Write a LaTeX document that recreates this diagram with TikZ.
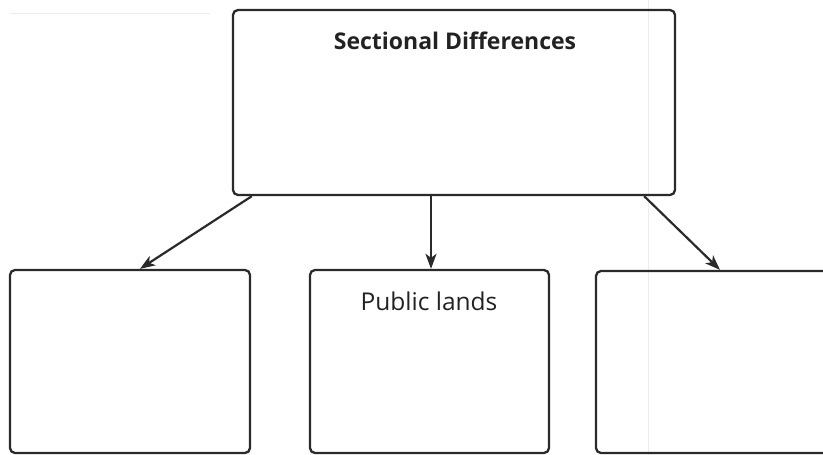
\documentclass[tikz,border=0pt]{standalone}
\usepackage{fontspec}
\setmainfont{Open Sans}
\usetikzlibrary{arrows.meta}
\definecolor{ink}{HTML}{2A2A2A}
\definecolor{txt}{HTML}{222222}
\tikzset{
  box/.style={draw=ink, line width=2.3pt, rounded corners=5pt, fill=none, inner sep=0pt},
  arr/.style={draw=ink, line width=2.2pt, -{Stealth[length=15pt,width=11pt,inset=4pt]}},
  lbl/.style={text=txt, inner sep=0pt, font=\fontsize{23}{26}\selectfont},
  faint/.style={draw=black!7, line width=0.8pt}
}
\begin{document}
\begin{tikzpicture}[x=1pt,y=-1pt]
  \useasboundingbox (0,0) rectangle (823,455);
  \clip (0,0) rectangle (823,455);
  % faint scan lines
  \draw[faint] (10,13) -- (210,13);
  \draw[faint] (648,0) -- (648,455);
  % boxes
  \node[box, minimum width=442pt, minimum height=185pt] (top) at (454,102.5) {};
  \node[box, minimum width=240pt, minimum height=183pt] (lb) at (130,361.5) {};
  \node[box, minimum width=239pt, minimum height=183pt] (mb) at (429.5,361.5) {};
  \node[box, minimum width=250pt, minimum height=182pt] (rb) at (721,362) {};
  % labels
  \node[lbl, font=\fontsize{23}{26}\selectfont\bfseries] (toptext) at (455,41) {Sectional Differences};
  \node[lbl, font=\fontsize{24.5}{28}\selectfont] (mbtext) at (429,301) {Public lands};
  % arrows
  \draw[arr] ([xshift=20pt]top.south west) -- ([xshift=10pt]lb.north);
  \draw[arr] ([xshift=-23pt]top.south) -- ([xshift=1.5pt]mb.north);
  \draw[arr] ([xshift=-32pt]top.south east) -- ([xshift=-1pt]rb.north);
\end{tikzpicture}
\end{document}
